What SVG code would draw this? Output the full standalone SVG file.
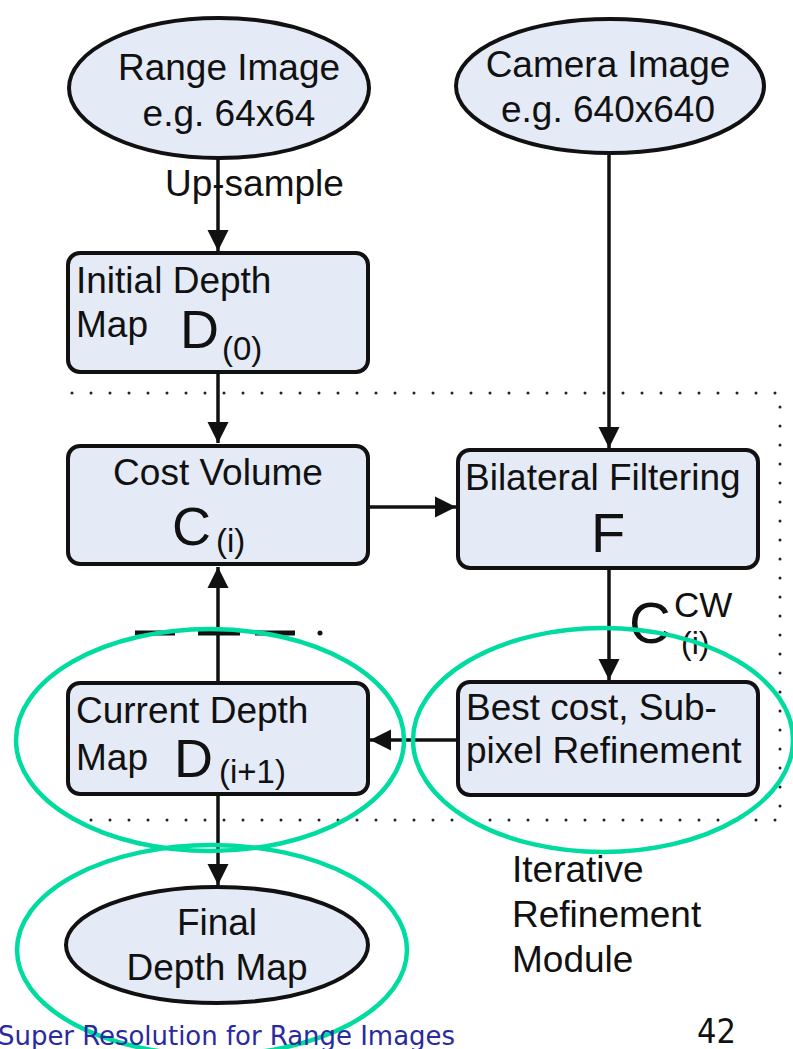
<svg xmlns="http://www.w3.org/2000/svg" width="793" height="1049" viewBox="0 0 793 1049">
  <defs>
    <style>
      .node { fill: #e4eaf6; stroke: #111; stroke-width: 4; }
      .t { font-family: "Liberation Sans", Arial, sans-serif; font-size: 37px; fill: #111; }
      .big { font-family: "Liberation Sans", Arial, sans-serif; font-size: 54px; fill: #111; }
      .sub { font-family: "Liberation Sans", Arial, sans-serif; font-size: 33px; fill: #111; }
      .edge { stroke: #111; stroke-width: 3.5; fill: none; }
      .frame { stroke: #222; stroke-width: 3; fill: none; stroke-dasharray: 0 19; stroke-linecap: round; }
      .hl { fill: none; stroke: #00dba0; stroke-width: 4.5; }
    </style>
    <marker id="arrow" viewBox="0 0 10 10" refX="10" refY="5" markerWidth="6" markerHeight="9" markerUnits="strokeWidth" orient="auto">
      <path d="M0,0 L10,5 L0,10 z" fill="#111"/>
    </marker>
  </defs>
  <rect width="793" height="1049" fill="#fff"/>

  <!-- dotted frame of the iterative module -->
  <g id="module-frame">
    <path class="frame" d="M72,393 H780 V820 H72"/>
  </g>

  <!-- connectors -->
  <g id="connectors">
    <line class="edge" x1="218" y1="158" x2="218" y2="251" marker-end="url(#arrow)"/>
    <line class="edge" x1="609" y1="153" x2="609" y2="448" marker-end="url(#arrow)"/>
    <line class="edge" x1="218" y1="372" x2="218" y2="443" marker-end="url(#arrow)"/>
    <line class="edge" x1="368" y1="507" x2="456" y2="507" marker-end="url(#arrow)"/>
    <line class="edge" x1="609" y1="568" x2="609" y2="680" marker-end="url(#arrow)"/>
    <line class="edge" x1="458" y1="740" x2="370" y2="740" marker-end="url(#arrow)"/>
    <line class="edge" x1="218" y1="683" x2="218" y2="567" marker-end="url(#arrow)"/>
    <line class="edge" x1="218" y1="795" x2="218" y2="885" marker-end="url(#arrow)"/>
    <path d="M135,633 H175 M198,633 H240 M255,633 H295" stroke="#111" stroke-width="5"/>
    <circle cx="320" cy="633" r="2.5" fill="#111"/>
  </g>

  <!-- labels on connectors -->
  <g id="edge-labels">
    <text class="t" x="165" y="196">Up-sample</text>
    <text class="big" x="629" y="643" style="font-size:58px">C</text>
    <text class="sub" x="674" y="617" style="font-size:35px">CW</text>
    <text class="sub" x="681" y="654" style="font-size:32px">(i)</text>
  </g>

  <g id="range-image">
    <ellipse class="node" cx="219" cy="88" rx="150" ry="70"/>
    <text class="t" x="229" y="80" text-anchor="middle">Range Image</text>
    <text class="t" x="229" y="126" text-anchor="middle">e.g. 64x64</text>
  </g>

  <g id="camera-image">
    <ellipse class="node" cx="610" cy="86" rx="154" ry="67"/>
    <text class="t" x="608" y="77" text-anchor="middle">Camera Image</text>
    <text class="t" x="608" y="122" text-anchor="middle">e.g. 640x640</text>
  </g>

  <g id="initial-depth">
    <rect class="node" x="68" y="253" width="300" height="119" rx="12"/>
    <text class="t" x="76" y="293">Initial Depth</text>
    <text class="t" x="76" y="337">Map</text>
    <text class="big" x="180" y="348">D</text>
    <text class="sub" x="222" y="360">(0)</text>
  </g>

  <g id="cost-volume">
    <rect class="node" x="68" y="446" width="300" height="118" rx="12"/>
    <text class="t" x="218" y="485" text-anchor="middle">Cost Volume</text>
    <text class="big" x="172" y="545">C</text>
    <text class="sub" x="216" y="552">(i)</text>
  </g>

  <g id="bilateral-filtering">
    <rect class="node" x="458" y="450" width="300" height="118" rx="12"/>
    <text class="t" x="465" y="490">Bilateral Filtering</text>
    <text class="big" x="608" y="552" text-anchor="middle" style="font-size:56px">F</text>
  </g>

  <g id="best-cost">
    <rect class="node" x="458" y="682" width="300" height="113" rx="12"/>
    <text class="t" x="466" y="720">Best cost, Sub-</text>
    <text class="t" x="466" y="763">pixel Refinement</text>
  </g>

  <g id="current-depth">
    <rect class="node" x="68" y="683" width="300" height="111" rx="12"/>
    <text class="t" x="76" y="723">Current Depth</text>
    <text class="t" x="76" y="770">Map</text>
    <text class="big" x="174" y="777">D</text>
    <text class="sub" x="219" y="783">(i+1)</text>
  </g>

  <g id="final-depth">
    <ellipse class="node" cx="217" cy="945" rx="151" ry="58"/>
    <text class="t" x="217" y="935" text-anchor="middle">Final</text>
    <text class="t" x="217" y="980" text-anchor="middle">Depth Map</text>
  </g>

  <g id="module-label">
    <text class="t" x="512" y="882">Iterative</text>
    <text class="t" x="512" y="927">Refinement</text>
    <text class="t" x="512" y="972">Module</text>
  </g>

  <!-- highlight rings -->
  <g id="highlights">
    <ellipse class="hl" cx="210" cy="740" rx="194" ry="111"/>
    <ellipse class="hl" cx="603" cy="740" rx="190" ry="112"/>
    <ellipse class="hl" cx="212" cy="950" rx="195" ry="105"/>
  </g>

  <!-- slide footer -->
  <g id="footer">
    <text x="-2" y="1045" font-family="'DejaVu Sans Condensed', 'DejaVu Sans', Verdana, sans-serif" font-size="26" textLength="457" lengthAdjust="spacingAndGlyphs" fill="#2a2aa0">Super Resolution for Range Images</text>
    <text x="697" y="1043" font-family="'DejaVu Sans Condensed', 'DejaVu Sans', Verdana, sans-serif" font-size="34" fill="#111">42</text>
  </g>
</svg>
